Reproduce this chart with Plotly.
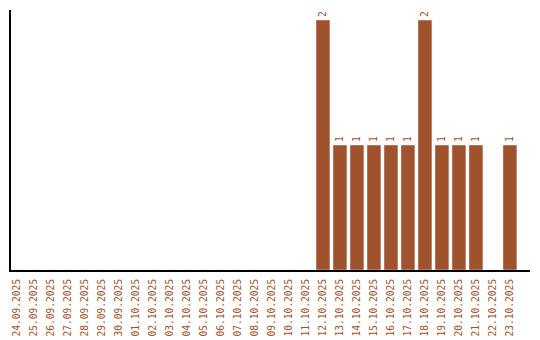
import plotly.graph_objects as go

dates = ["24.09.2025","25.09.2025","26.09.2025","27.09.2025","28.09.2025","29.09.2025",
         "30.09.2025","01.10.2025","02.10.2025","03.10.2025","04.10.2025","05.10.2025",
         "06.10.2025","07.10.2025","08.10.2025","09.10.2025","10.10.2025","11.10.2025",
         "12.10.2025","13.10.2025","14.10.2025","15.10.2025","16.10.2025","17.10.2025",
         "18.10.2025","19.10.2025","20.10.2025","21.10.2025","22.10.2025","23.10.2025"]
counts = [0,0,0,0,0,0,0,0,0,0,0,0,0,0,0,0,0,0,2,1,1,1,1,1,2,1,1,1,0,1]

color = "#A0522D"
font = dict(family="DejaVu Sans Mono", size=9.6, color=color)
labels = [str(v) if v > 0 else "" for v in counts]

fig = go.Figure(go.Bar(
    x=dates, y=counts, marker_color=color, width=0.82,
    text=labels, textposition="outside", textangle=-90,
    textfont=font, cliponaxis=False,
))
fig.update_layout(
    width=540, height=340, margin=dict(l=11, r=10, t=10, b=70),
    plot_bgcolor="white", paper_bgcolor="white", showlegend=False,
    font=font,
)
fig.update_xaxes(type="category", range=[-0.353, 30.18], tickangle=-90, tickfont=font,
                 showline=True, linecolor="black", linewidth=2, showgrid=False,
                 ticks="outside", ticklen=3, tickcolor="rgba(0,0,0,0)", automargin=False)
fig.update_yaxes(range=[0, 2.08], showticklabels=False, showline=True, linecolor="black",
                 linewidth=2, showgrid=False, zeroline=False, ticks="", automargin=False)
fig.write_html("out.html")
